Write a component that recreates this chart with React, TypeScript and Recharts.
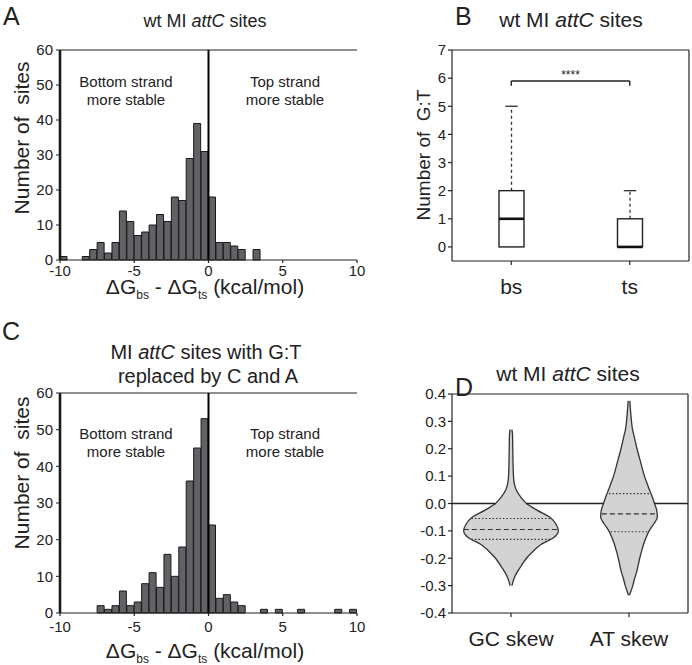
import React from 'react';
import { Bar, ComposedChart, Area, XAxis, YAxis, ReferenceLine } from 'recharts';

// histogram bins: 0.5 kcal/mol wide, from -10 to 10
const binWidth = 0.5;
const binStarts = Array.from({ length: 40 }, (_, i) => -10 + i * binWidth);

const wtCounts = [1, 0, 0, 1, 3, 5, 2, 5, 14, 11, 7, 8, 10, 13, 11, 18, 17, 29, 39, 31, 18, 5, 5, 4, 3, 0, 3,
  0, 0, 0, 0, 0, 0, 0, 0, 0, 0, 0, 0, 0];
const replacedCounts = [0, 0, 0, 0, 0, 2, 1, 2, 6, 2, 3, 8, 11, 7, 16, 10, 18, 36, 45, 53, 24, 4, 5, 3, 2,
  0, 0, 1, 0, 1, 0, 0, 1, 0, 0, 0, 0, 1, 0, 1];

const histTicks = [-10, -5, 0, 5, 10];
const countTicks = [0, 10, 20, 30, 40, 50, 60];

// box plot (number of G:T)
const boxNames = ['bs', 'ts'];
const boxMin = [0, 0];
const boxQ1 = [0, 0];
const boxMedian = [1, 0];
const boxQ3 = [2, 1];
const boxMax = [5, 2];
const gtTicks = [0, 1, 2, 3, 4, 5, 6, 7];
const bracketY = 5.9;
const bracketDrop = 5.73;

// violins: half widths (in category units) at each skew level
const skewNames = ['GC skew', 'AT skew'];
const skewLevels = [0.375, 0.35, 0.3, 0.27, 0.25, 0.2, 0.15, 0.1, 0.075, 0.05, 0.025, 0, -0.025, -0.05,
  -0.075, -0.1, -0.125, -0.15, -0.175, -0.2, -0.225, -0.25, -0.275, -0.3, -0.335];
const gcHalfWidth = [null, null, null, 0.008, 0.013, 0.015, 0.017, 0.021, 0.027, 0.044, 0.08, 0.131, 0.224,
  0.33, 0.38, 0.401, 0.36, 0.254, 0.186, 0.131, 0.091, 0.053, 0.025, 0.008, null];
const atHalfWidth = [0.007, 0.011, 0.021, 0.03, 0.041, 0.068, 0.099, 0.131, 0.152, 0.173, 0.197, 0.216, 0.235,
  0.24, 0.209, 0.171, 0.144, 0.123, 0.106, 0.091, 0.078, 0.065, 0.047, 0.032, 0.004];
// quartiles: [q1, median, q3] and the violin half width there
const gcQuartiles = [-0.131, -0.095, -0.055];
const gcQuartileHalfWidth = [0.335, 0.4, 0.335];
const atQuartiles = [-0.103, -0.038, 0.036];
const atQuartileHalfWidth = [0.155, 0.23, 0.17];
const skewTicks = [-0.4, -0.3, -0.2, -0.1, 0, 0.1, 0.2, 0.3, 0.4];

const FONT = "'Liberation Sans', Arial, sans-serif";
const INK = '#222';

type HistProps = { counts: number[]; height: number; top: number; bottom: number; tickGap: number };

function Histogram({ counts, height, top, bottom, tickGap }: HistProps) {
  const data = binStarts.map((b, i) => ({ mid: b + binWidth / 2, count: counts[i] }));
  return (
    <ComposedChart width={365} height={height} data={data} barCategoryGap={0} barGap={0}
      margin={{ top: top, right: 2, bottom: bottom, left: 10 }}>
      <XAxis dataKey="mid" type="number" domain={[-10, 10]} ticks={histTicks} allowDataOverflow
        height={30} tickSize={3} tickMargin={tickGap} stroke={INK} strokeWidth={1.2}
        tick={{ fontSize: 15, fill: INK }} />
      <YAxis domain={[0, 60]} ticks={countTicks} width={50} tickSize={4} tickMargin={3}
        axisLine={{ stroke: '#1a1a1a', strokeWidth: 2.6 }} tickLine={{ stroke: INK }}
        tick={{ fontSize: 15, fill: INK }} />
      <YAxis yAxisId="right" orientation="right" domain={[0, 60]} ticks={countTicks} width={6} tickSize={3}
        tick={false} axisLine={false} tickLine={{ stroke: '#bbb' }} />
      <Bar dataKey="count" fill="#616166" stroke="#1a1a1a" strokeWidth={1} isAnimationActive={false} />
      <ReferenceLine y={60} stroke={INK} strokeWidth={1.2} ifOverflow="visible" />
      <ReferenceLine x={0} stroke="#000" strokeWidth={2} />
    </ComposedChart>
  );
}

function BoxShape(props: any) {
  const { x, y, width, height, payload } = props;
  const [lo, hi] = payload.range;
  const k = height / (hi - lo);
  const py = (v: number) => y + (hi - v) * k;
  const cx = x + width / 2;
  const cap = width / 4;
  return (
    <g>
      <line x1={cx} x2={cx} y1={py(payload.q3)} y2={py(hi)} stroke="#333" strokeWidth={1.3} strokeDasharray="3 3" />
      <line x1={cx} x2={cx} y1={py(payload.q1)} y2={py(lo)} stroke="#333" strokeWidth={1.3} strokeDasharray="3 3" />
      <line x1={cx - cap} x2={cx + cap} y1={py(hi)} y2={py(hi)} stroke="#333" strokeWidth={1.3} />
      <rect x={x} y={py(payload.q3)} width={width} height={py(payload.q1) - py(payload.q3)}
        fill="#fff" stroke="#222" strokeWidth={1.4} />
      <line x1={x} x2={x + width} y1={py(payload.median)} y2={py(payload.median)} stroke="#111" strokeWidth={2.6} />
    </g>
  );
}

function BoxPanel() {
  const data = boxNames.map((name, i) => ({
    name,
    range: [boxMin[i], boxMax[i]],
    q1: boxQ1[i],
    median: boxMedian[i],
    q3: boxQ3[i],
  }));
  return (
    <ComposedChart width={312} height={320} data={data} margin={{ top: 44, right: 0, bottom: 19, left: 27 }}>
      <XAxis dataKey="name" height={40} tickSize={4} tickMargin={14} stroke={INK} strokeWidth={1.2}
        tick={{ fontSize: 21, fill: INK }} />
      <XAxis xAxisId="top" dataKey="name" orientation="top" height={6} tickSize={4} tick={false}
        stroke={INK} strokeWidth={1.2} />
      <YAxis domain={[-0.5, 7]} ticks={gtTicks} width={45} tickSize={4} tickMargin={2}
        stroke={INK} strokeWidth={1.2} tick={{ fontSize: 15, fill: INK }} />
      <YAxis yAxisId="r" orientation="right" domain={[-0.5, 7]} ticks={gtTicks} width={3} tickSize={3}
        tick={false} stroke={INK} strokeWidth={1.2} />
      <Bar dataKey="range" barSize={25} isAnimationActive={false} shape={(p: any) => <BoxShape {...p} />} />
      <ReferenceLine segment={[{ x: 'bs', y: bracketY }, { x: 'ts', y: bracketY }]} stroke="#222" strokeWidth={1.4}
        label={{ value: '****', position: 'top', fontSize: 12, fill: INK, offset: 2 }} />
      <ReferenceLine segment={[{ x: 'bs', y: bracketY }, { x: 'bs', y: bracketDrop }]} stroke="#222" strokeWidth={1.4} />
      <ReferenceLine segment={[{ x: 'ts', y: bracketY }, { x: 'ts', y: bracketDrop }]} stroke="#222" strokeWidth={1.4} />
    </ComposedChart>
  );
}

function ViolinPanel() {
  const gcData = skewLevels
    .map((y, i) => ({ y, hw: gcHalfWidth[i] }))
    .filter((r) => r.hw != null)
    .map((r) => ({ y: r.y, gc: [1 - (r.hw as number), 1 + (r.hw as number)] }));
  const atData = skewLevels.map((y, i) => ({ y, at: [2 - atHalfWidth[i], 2 + atHalfWidth[i]] }));
  const zeroIdx = skewLevels.indexOf(0);
  const gcZero = gcHalfWidth[zeroIdx] as number;
  const atZero = atHalfWidth[zeroIdx];
  const zeroSegments = [[0.5, 1 - gcZero], [1 + gcZero, 2 - atZero], [2 + atZero, 2.5]];
  const quartileLines = (qs: number[], hws: number[], center: number) =>
    qs.map((q, i) => (
      <ReferenceLine key={`${center}-${i}`} segment={[{ x: center - hws[i], y: q }, { x: center + hws[i], y: q }]}
        stroke="#333" strokeWidth={1.1} strokeDasharray={i === 1 ? '5 3' : '1.5 2'} />
    ));
  return (
    <ComposedChart layout="vertical" width={312} height={325}
      margin={{ top: 48, right: 1, bottom: 12, left: 27 }}>
      <XAxis type="number" domain={[0.5, 2.5]} ticks={[1, 2]} allowDataOverflow
        tickFormatter={(v: number) => skewNames[v - 1]} height={40} tickSize={4} tickMargin={14}
        stroke={INK} strokeWidth={1.2} tick={{ fontSize: 21, fill: INK }} />
      <XAxis xAxisId="top" orientation="top" type="number" domain={[0.5, 2.5]} ticks={[1, 2]} allowDataOverflow
        height={6} tickSize={4} tick={false} stroke={INK} strokeWidth={1.2} />
      <YAxis type="number" dataKey="y" domain={[-0.4, 0.4]} ticks={skewTicks} allowDataOverflow reversed
        tickFormatter={(v: number) => v.toFixed(1)} width={45} tickSize={4} tickMargin={2}
        stroke={INK} strokeWidth={1.2} tick={{ fontSize: 15, fill: INK }} />
      <YAxis yAxisId="r" orientation="right" type="number" domain={[-0.4, 0.4]} ticks={skewTicks} allowDataOverflow
        reversed width={3} tickSize={3} tick={false} stroke={INK} strokeWidth={1.2} />
      <Area data={gcData} dataKey="gc" type="monotone" fill="#d3d3d3" fillOpacity={1} stroke="#333" strokeWidth={1.3}
        isAnimationActive={false} />
      <Area data={atData} dataKey="at" type="monotone" fill="#d3d3d3" fillOpacity={1} stroke="#333" strokeWidth={1.3}
        isAnimationActive={false} />
      {zeroSegments.map(([a, b], i) => (
        <ReferenceLine key={`z${i}`} segment={[{ x: a, y: 0 }, { x: b, y: 0 }]} stroke="#222" strokeWidth={1.6} />
      ))}
      {quartileLines(gcQuartiles, gcQuartileHalfWidth, 1)}
      {quartileLines(atQuartiles, atQuartileHalfWidth, 2)}
    </ComposedChart>
  );
}

function DeltaLabel({ x, y }: { x: number; y: number }) {
  return (
    <text x={x} y={y} textAnchor="middle" fontSize={21} fill={INK} style={{ whiteSpace: 'pre' }}>
      <tspan>ΔG</tspan>
      <tspan fontSize={12} dy={5}>bs</tspan>
      <tspan dy={-5}> - ΔG</tspan>
      <tspan fontSize={12} dy={5}>ts</tspan>
      <tspan dy={-5}> (kcal/mol)</tspan>
    </text>
  );
}

function WtTitle({ x, y, size }: { x: number; y: number; size: number }) {
  return (
    <text x={x} y={y} textAnchor="middle" fontSize={size} fill={INK} style={{ whiteSpace: 'pre' }}>
      wt MI <tspan fontStyle="italic">attC</tspan> sites
    </text>
  );
}

function StrandNotes({ y }: { y: number }) {
  return (
    <g fontSize={15} fill={INK} textAnchor="middle">
      <text x={126} y={y}>Bottom strand</text>
      <text x={126} y={y + 18}>more stable</text>
      <text x={285} y={y}>Top strand</text>
      <text x={285} y={y + 18}>more stable</text>
    </g>
  );
}

export default function App() {
  return (
    <div style={{ position: 'absolute', left: 0, top: 0, width: 692, height: 665, background: '#fff', fontFamily: FONT }}>
      <div style={{ position: 'absolute', left: 0, top: 0 }}>
        <Histogram counts={wtCounts} height={300} top={50} bottom={10} tickGap={2} />
      </div>
      <div style={{ position: 'absolute', left: 0, top: 340 }}>
        <Histogram counts={replacedCounts} height={325} top={53} bottom={22} tickGap={5} />
      </div>
      <div style={{ position: 'absolute', left: 380, top: 0 }}>
        <BoxPanel />
      </div>
      <div style={{ position: 'absolute', left: 380, top: 340 }}>
        <ViolinPanel />
      </div>
      <svg width={692} height={665} style={{ position: 'absolute', left: 0, top: 0, pointerEvents: 'none' }}
        fontFamily={FONT}>
        <g fontSize={25} fill={INK}>
          <text x={3} y={25}>A</text>
          <text x={455} y={25}>B</text>
          <text x={2} y={340}>C</text>
          <text x={455} y={396}>D</text>
        </g>
        <WtTitle x={205} y={27} size={18} />
        <WtTitle x={571} y={27} size={21} />
        <WtTitle x={568} y={381} size={21} />
        <text x={206} y={359} textAnchor="middle" fontSize={20} fill={INK} style={{ whiteSpace: 'pre' }}>
          MI <tspan fontStyle="italic">attC</tspan> sites with G:T
        </text>
        <text x={208} y={383} textAnchor="middle" fontSize={20} fill={INK}>replaced by C and A</text>
        <StrandNotes y={87} />
        <StrandNotes y={439} />
        <text transform="translate(29,138) rotate(-90)" textAnchor="middle" fontSize={21} fill={INK}
          style={{ whiteSpace: 'pre' }}>Number of  sites</text>
        <text transform="translate(29,473) rotate(-90)" textAnchor="middle" fontSize={21} fill={INK}
          style={{ whiteSpace: 'pre' }}>Number of  sites</text>
        <text transform="translate(430,155) rotate(-90)" textAnchor="middle" fontSize={19} fill={INK}
          style={{ whiteSpace: 'pre' }}>Number of  G:T</text>
        <DeltaLabel x={205} y={294} />
        <DeltaLabel x={205} y={658} />
      </svg>
    </div>
  );
}
